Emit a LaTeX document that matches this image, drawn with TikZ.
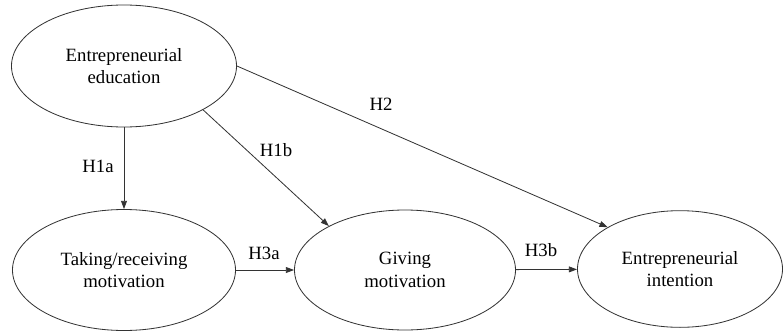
\documentclass[tikz,border=0pt]{standalone}
\usepackage{fontspec}
\setmainfont{Liberation Serif}
\usetikzlibrary{arrows.meta,shapes.geometric}

\begin{document}
\begin{tikzpicture}[x=0.03cm,y=-0.03cm,font=\fontsize{16}{19}\selectfont,
  construct/.style={draw=black!80,line width=0.7pt,ellipse,inner sep=0pt,align=center},
  path/.style={draw=black!80,line width=0.7pt,-{Triangle[length=7pt,width=5pt]}},
  hyp/.style={inner sep=0pt}]
\useasboundingbox (0,0) rectangle (783,332);
\node[construct,minimum width=6.75cm,minimum height=3.66cm] (edu) at (124,66) {Entrepreneurial\\education};
\node[construct,minimum width=6.69cm,minimum height=3.63cm] (take) at (124,270) {Taking/receiving\\motivation};
\node[construct,minimum width=6.63cm,minimum height=3.6cm] (give) at (405,270) {Giving\\motivation};
\node[construct,minimum width=6.15cm,minimum height=3.5cm] (int) at (680,269) {Entrepreneurial\\intention};
\draw[path] (edu) -- (take);
\draw[path] (edu.-29) -- (give.150);
\draw[path] (edu.0) -- (int.150);
\draw[path] (take) -- (give);
\draw[path] (give) -- (int);
\node[hyp] (h1a) at (98,166) {H1a};
\node[hyp] (h1b) at (276,150) {H1b};
\node[hyp] (h2) at (381,104) {H2};
\node[hyp] (h3a) at (264,253) {H3a};
\node[hyp] (h3b) at (541,250) {H3b};
\end{tikzpicture}
\end{document}
